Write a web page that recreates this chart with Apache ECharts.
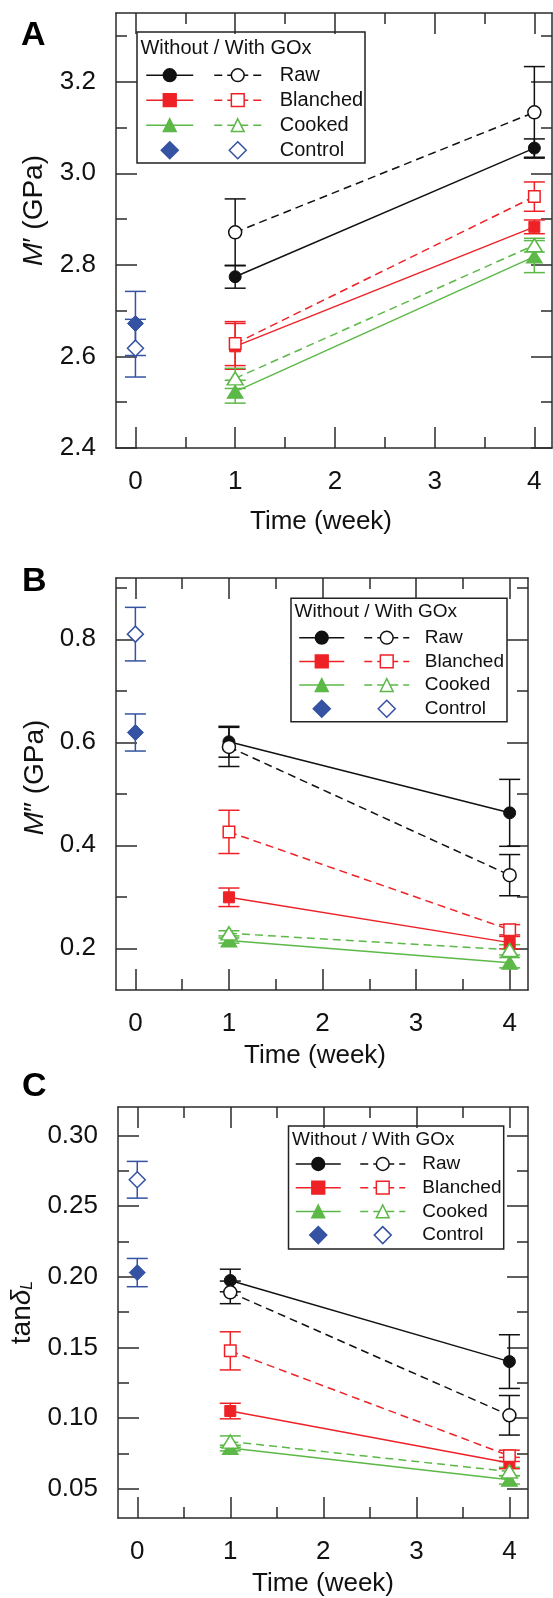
<!DOCTYPE html>
<html><head><meta charset="utf-8">
<script src="https://cdn.jsdelivr.net/npm/echarts@6/dist/echarts.min.js"></script>
<style>html,body{margin:0;padding:0;background:#fff}#c{width:553px;height:1598px}</style>
</head><body><div id="c"></div>
<script>
// ---------- DATA ----------
const weeks = [1, 4];
const controlWeek = [0];
const xMajor = [0, 1, 2, 3, 4];
const xMinor = [0.5, 1.5, 2.5, 3.5];
const groupNames = ['Raw', 'Blanched', 'Cooked'];
const controlName = 'Control';

// Panel A : M' (GPa)
const A_raw = [2.774, 3.055],      A_raw_err = [0.025, 0.020];
const A_rawGOx = [2.871, 3.133],   A_rawGOx_err = [0.073, 0.100];
const A_bl = [2.622, 2.883],       A_bl_err = [0.050, 0.015];
const A_blGOx = [2.628, 2.949],    A_blGOx_err = [0.048, 0.032];
const A_ck = [2.523, 2.818],       A_ck_err = [0.025, 0.035];
const A_ckGOx = [2.552, 2.843],    A_ckGOx_err = [0.022, 0.015];
const A_ctrl = [2.672],            A_ctrl_err = [0.070];
const A_ctrlGOx = [2.618],         A_ctrlGOx_err = [0.063];
const A_yMajor = [2.4, 2.6, 2.8, 3.0, 3.2];
const A_yMinor = [2.5, 2.7, 2.9, 3.1, 3.3];

// Panel B : M'' (GPa)
const B_raw = [0.601, 0.463],      B_raw_err = [0.030, 0.065];
const B_rawGOx = [0.591, 0.342],   B_rawGOx_err = [0.038, 0.040];
const B_bl = [0.299, 0.211],       B_bl_err = [0.018, 0.012];
const B_blGOx = [0.426, 0.236],    B_blGOx_err = [0.042, 0.010];
const B_ck = [0.215, 0.172],       B_ck_err = [0.005, 0.010];
const B_ckGOx = [0.229, 0.197],    B_ckGOx_err = [0.005, 0.010];
const B_ctrl = [0.619],            B_ctrl_err = [0.036];
const B_ctrlGOx = [0.810],         B_ctrlGOx_err = [0.052];
const B_yMajor = [0.2, 0.4, 0.6, 0.8];
const B_yMinor = [0.3, 0.5, 0.7, 0.9];

// Panel C : tan delta L
const C_raw = [0.1974, 0.140],     C_raw_err = [0.008, 0.019];
const C_rawGOx = [0.189, 0.102],   C_rawGOx_err = [0.008, 0.014];
const C_bl = [0.105, 0.0682],      C_bl_err = [0.0055, 0.004];
const C_blGOx = [0.1476, 0.0733],  C_blGOx_err = [0.0135, 0.004];
const C_ck = [0.0788, 0.0563],     C_ck_err = [0.002, 0.003];
const C_ckGOx = [0.0834, 0.0622],  C_ckGOx_err = [0.004, 0.003];
const C_ctrl = [0.203],            C_ctrl_err = [0.010];
const C_ctrlGOx = [0.2687],        C_ctrlGOx_err = [0.013];
const C_yMajor = [0.05, 0.10, 0.15, 0.20, 0.25, 0.30];
const C_yMinor = [0.075, 0.125, 0.175, 0.225, 0.275];

// ---------- STYLE / LAYOUT ----------
const FONT = '"Liberation Sans", Arial, Helvetica, sans-serif';
const AX = '#2b2b2b';
const TXT = '#111';
const groupColors = ['#111111', '#ee2226', '#5cb847'];
const BLUE = '#3552a3';
const groupSymbols = ['circle', 'rect', 'triangle'];
const symFilled = [12, 11, [16, 13]];
const symOpen = [13, 11.5, [16, 13]];
const DASH = [8, 5];

const panelDefs = [
  { letter: 'A', sets: [[A_raw, A_raw_err, A_rawGOx, A_rawGOx_err], [A_bl, A_bl_err, A_blGOx, A_blGOx_err], [A_ck, A_ck_err, A_ckGOx, A_ckGOx_err]],
    ctrl: [A_ctrl, A_ctrl_err, A_ctrlGOx, A_ctrlGOx_err], yMajor: A_yMajor, yMinor: A_yMinor, dec: 1,
    yName: '{i|M}′ (GPa)',
    grid: { left: 116, top: 13, width: 436, height: 435 }, xr: [-0.195, 4.177], yr: [2.4, 3.35],
    yGap: 68, yPad: [0, 0, 0, 40], xGap: 61, xPad: [0, 26, 0, 0],
    leg: { row: 75.2, step: 25.0, m1: 169, m2: 237, text: 279, w: 47, font: 20 },
    box: [137, 32, 228, 131], title: [140.4, 48], lpos: [21, 35.5] },
  { letter: 'B', sets: [[B_raw, B_raw_err, B_rawGOx, B_rawGOx_err], [B_bl, B_bl_err, B_blGOx, B_blGOx_err], [B_ck, B_ck_err, B_ckGOx, B_ckGOx_err]],
    ctrl: [B_ctrl, B_ctrl_err, B_ctrlGOx, B_ctrlGOx_err], yMajor: B_yMajor, yMinor: B_yMinor, dec: 1,
    yName: '{i|M}″ (GPa)',
    grid: { left: 116, top: 578, width: 412, height: 412 }, xr: [-0.207, 4.196], yr: [0.119, 0.919],
    yGap: 64, yPad: [0, 0, 0, 13], xGap: 53, xPad: [0, 14, 0, 0],
    leg: { row: 637.7, step: 23.7, m1: 321, m2: 386, text: 424, w: 45, font: 19 },
    box: [291, 598.3, 216, 123.4], title: [294.5, 611.7], lpos: [22, 581.5] },
  { letter: 'C', sets: [[C_raw, C_raw_err, C_rawGOx, C_rawGOx_err], [C_bl, C_bl_err, C_blGOx, C_blGOx_err], [C_ck, C_ck_err, C_ckGOx, C_ckGOx_err]],
    ctrl: [C_ctrl, C_ctrl_err, C_ctrlGOx, C_ctrlGOx_err], yMajor: C_yMajor, yMinor: C_yMinor, dec: 2,
    yName: 'tan{d|δ}{s|L}',
    grid: { left: 116, top: 1107, width: 412, height: 411 }, xr: [-0.207, 4.2], yr: [0.0293, 0.3202],
    yGap: 82, yPad: [0, 0, 0, 0], xGap: 53, xPad: [0, 0, 0, 0],
    leg: { row: 1164, step: 23.7, m1: 317.5, m2: 382, text: 421.5, w: 45, font: 19 },
    box: [288.5, 1126, 215.2, 123], title: [292, 1140], lpos: [22, 1087] }
];

function errRender(color) {
  return function (params, api) {
    const x = api.value(0), lo = api.value(1), hi = api.value(2);
    const p1 = api.coord([x, hi]), p2 = api.coord([x, lo]);
    const w = 10.5;
    const st = { stroke: color, lineWidth: 1.5 };
    return { type: 'group', children: [
      { type: 'line', shape: { x1: p1[0], y1: p1[1], x2: p2[0], y2: p2[1] }, style: st },
      { type: 'line', shape: { x1: p1[0] - w, y1: p1[1], x2: p1[0] + w, y2: p1[1] }, style: st },
      { type: 'line', shape: { x1: p2[0] - w, y1: p2[1], x2: p2[0] + w, y2: p2[1] }, style: st }
    ] };
  };
}

const option = { animation: false, backgroundColor: '#fff', grid: [], xAxis: [], yAxis: [], legend: [], series: [], graphic: [] };

panelDefs.forEach(function (P, g) {
  option.grid.push(Object.assign({ containLabel: false }, P.grid));
  const xi = option.xAxis.length, yi = option.yAxis.length;
  const lineSt = { color: AX, width: 1.5 };
  const xb = { type: 'value', gridIndex: g, min: P.xr[0], max: P.xr[1], splitLine: { show: false }, axisLine: { onZero: false, lineStyle: lineSt } };
  const tickMaj = v => ({ inside: true, length: 21, customValues: v, lineStyle: lineSt });
  const tickMin = v => ({ inside: true, length: 11, customValues: v, lineStyle: lineSt });
  option.xAxis.push(
    Object.assign({}, xb, { position: 'bottom', axisTick: tickMaj(xMajor),
      axisLabel: { customValues: xMajor, margin: 21, fontSize: 26, color: TXT, fontFamily: FONT, formatter: v => String(v) },
      name: 'Time (week)', nameLocation: 'middle', nameGap: P.xGap,
      nameTextStyle: { fontSize: 26, color: TXT, fontFamily: FONT, padding: P.xPad } }),
    Object.assign({}, xb, { position: 'bottom', axisLine: { show: false, onZero: false }, axisTick: tickMin(xMinor), axisLabel: { show: false } }),
    Object.assign({}, xb, { position: 'top', axisTick: tickMaj(xMajor), axisLabel: { show: false } }),
    Object.assign({}, xb, { position: 'top', axisLine: { show: false, onZero: false }, axisTick: tickMin(xMinor), axisLabel: { show: false } })
  );
  const yb = { type: 'value', gridIndex: g, min: P.yr[0], max: P.yr[1], splitLine: { show: false }, axisLine: { onZero: false, lineStyle: lineSt } };
  const richBase = { fontSize: 28, color: TXT, fontFamily: FONT };
  option.yAxis.push(
    Object.assign({}, yb, { position: 'left', axisTick: tickMaj(P.yMajor),
      axisLabel: { customValues: P.yMajor, margin: 20, fontSize: 26, color: TXT, fontFamily: FONT, formatter: v => Number(v).toFixed(P.dec) },
      name: P.yName, nameLocation: 'middle', nameGap: P.yGap, nameRotate: 90,
      nameTextStyle: Object.assign({}, richBase, { padding: P.yPad, rich: {
        i: Object.assign({}, richBase, { fontStyle: 'italic' }),
        d: Object.assign({}, richBase, { fontStyle: 'italic' }),
        s: Object.assign({}, richBase, { fontSize: 16, fontStyle: 'italic', lineHeight: 4, verticalAlign: 'bottom' })
      } }) }),
    Object.assign({}, yb, { position: 'left', axisLine: { show: false, onZero: false }, axisTick: tickMin(P.yMinor), axisLabel: { show: false } }),
    Object.assign({}, yb, { position: 'right', axisTick: tickMaj(P.yMajor), axisLabel: { show: false } }),
    Object.assign({}, yb, { position: 'right', axisLine: { show: false, onZero: false }, axisTick: tickMin(P.yMinor), axisLabel: { show: false } })
  );

  const filledNames = [], openNames = [];
  // error bars
  P.sets.forEach(function (s, k) {
    [[s[0], s[1]], [s[2], s[3]]].forEach(function (pair) {
      option.series.push({ type: 'custom', xAxisIndex: xi, yAxisIndex: yi, renderItem: errRender(groupColors[k]), silent: true,
        data: weeks.map((w, i) => [w, pair[0][i] - pair[1][i], pair[0][i] + pair[1][i]]) });
    });
  });
  [[P.ctrl[0], P.ctrl[1]], [P.ctrl[2], P.ctrl[3]]].forEach(function (pair) {
    option.series.push({ type: 'custom', xAxisIndex: xi, yAxisIndex: yi, renderItem: errRender(BLUE), silent: true,
      data: controlWeek.map((w, i) => [w, pair[0][i] - pair[1][i], pair[0][i] + pair[1][i]]) });
  });
  // filled (without GOx)
  P.sets.forEach(function (s, k) {
    const nm = P.letter + '|' + groupNames[k] + '|0';
    filledNames.push(nm);
    option.series.push({ type: 'line', name: nm, xAxisIndex: xi, yAxisIndex: yi,
      data: weeks.map((w, i) => [w, s[0][i]]), symbol: groupSymbols[k], symbolSize: symFilled[k],
      lineStyle: { color: groupColors[k], width: 1.5, type: 'solid' },
      itemStyle: { color: groupColors[k], borderColor: groupColors[k], borderWidth: 1 } });
  });
  // open (with GOx)
  P.sets.forEach(function (s, k) {
    const nm = P.letter + '|' + groupNames[k] + '|1';
    openNames.push(nm);
    option.series.push({ type: 'line', name: nm, xAxisIndex: xi, yAxisIndex: yi,
      data: weeks.map((w, i) => [w, s[2][i]]), symbol: groupSymbols[k], symbolSize: symOpen[k],
      lineStyle: { color: groupColors[k], width: 1.5, type: DASH },
      itemStyle: { color: '#fff', borderColor: groupColors[k], borderWidth: 1.5 } });
  });
  // control
  const c0 = P.letter + '|' + controlName + '|0', c1 = P.letter + '|' + controlName + '|1';
  option.series.push({ type: 'scatter', name: c0, xAxisIndex: xi, yAxisIndex: yi, symbol: 'diamond', symbolSize: 16,
    data: controlWeek.map((w, i) => [w, P.ctrl[0][i]]), itemStyle: { color: BLUE, borderColor: BLUE, borderWidth: 1, opacity: 1 } });
  option.series.push({ type: 'scatter', name: c1, xAxisIndex: xi, yAxisIndex: yi, symbol: 'diamond', symbolSize: 16,
    data: controlWeek.map((w, i) => [w, P.ctrl[2][i]]), itemStyle: { color: '#fff', borderColor: BLUE, borderWidth: 1.5, opacity: 1 } });

  // legends
  const Lg = P.leg;
  const ih = 16;
  const tstyle = pad => ({ fontSize: Lg.font, color: TXT, fontFamily: FONT, padding: [0, 0, 0, pad] });
  const legBase = { orient: 'vertical', top: Lg.row - Lg.font / 2, itemWidth: Lg.w, itemHeight: ih, itemGap: Lg.step - Lg.font,
    selectedMode: false, padding: 0, itemStyle: { borderWidth: 1.5 }, lineStyle: { width: 1.5 } };
  option.legend.push(Object.assign({}, legBase, { left: Lg.m1 - Lg.w / 2, data: filledNames, formatter: () => ' ', textStyle: tstyle(0) }));
  option.legend.push(Object.assign({}, legBase, { left: Lg.m2 - Lg.w / 2, data: openNames, formatter: n => n.split('|')[1],
    textStyle: tstyle(Lg.text - (Lg.m2 + Lg.w / 2) - 5) }));
  const dsz = 17;
  const ctrlBase = { orient: 'vertical', top: Lg.row + 3 * Lg.step - Lg.font / 2, itemWidth: dsz, itemHeight: dsz,
    selectedMode: false, padding: 0, itemStyle: { borderWidth: 1.5 }, symbolKeepAspect: true };
  option.legend.push(Object.assign({}, ctrlBase, { left: Lg.m1 - dsz / 2, data: [c0], formatter: () => ' ', textStyle: tstyle(0) }));
  option.legend.push(Object.assign({}, ctrlBase, { left: Lg.m2 - dsz / 2, data: [c1], formatter: n => n.split('|')[1],
    textStyle: tstyle(Lg.text - (Lg.m2 + dsz / 2) - 5) }));

  option.graphic.push(
    { type: 'rect', shape: { x: P.box[0], y: P.box[1], width: P.box[2], height: P.box[3] }, style: { fill: 'none', stroke: '#222', lineWidth: 1.5 }, silent: true },
    { type: 'text', x: P.title[0], y: P.title[1], silent: true, style: { text: 'Without / With GOx', fontSize: Lg.font, fontFamily: FONT, fill: TXT, verticalAlign: 'middle' } },
    { type: 'text', x: P.lpos[0], y: P.lpos[1], silent: true, style: { text: P.letter, fontSize: 34, fontWeight: 'bold', fontFamily: FONT, fill: '#000', verticalAlign: 'middle' } }
  );
});

const chart = echarts.init(document.getElementById('c'), null, { renderer: 'canvas' });
chart.setOption(option);
</script></body></html>
